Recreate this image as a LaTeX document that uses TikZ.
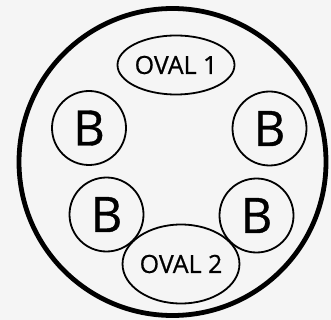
\documentclass[tikz,border=0pt]{standalone}
\usepackage{fontspec}
\setmainfont{Open Sans}[FakeBold=0.7]
\usetikzlibrary{shapes.geometric}
\begin{document}
\begin{tikzpicture}[x=1pt,y=-1pt,
  ring/.style={draw=black,line width=4.8pt},
  bub/.style={draw=black,line width=1.8pt,circle,minimum size=74pt,inner sep=0pt,font=\fontsize{49}{50}\selectfont},
  ov/.style={draw=black,line width=1.8pt,ellipse,inner sep=0pt,font=\fontsize{25}{26}\selectfont}]
\fill[black!4] (0,0) rectangle (331,320);
\useasboundingbox (0,0) rectangle (331,320);
\node[ring,circle,minimum size=307pt,inner sep=0pt] (outer) at (172.5,162) {};
\node[ov,minimum width=117pt,minimum height=59pt] (o1) at (176,65) {OVAL 1};
\node[ov,minimum width=94pt,minimum height=79pt] (o2) at (181,264) {OVAL 2};
\node[bub] (b1) at (89,128) {B};
\node[bub] (b2) at (269.5,128.5) {B};
\node[bub] (b3) at (106.5,214.5) {B};
\node[bub] (b4) at (256.5,215.5) {B};
\end{tikzpicture}
\end{document}
